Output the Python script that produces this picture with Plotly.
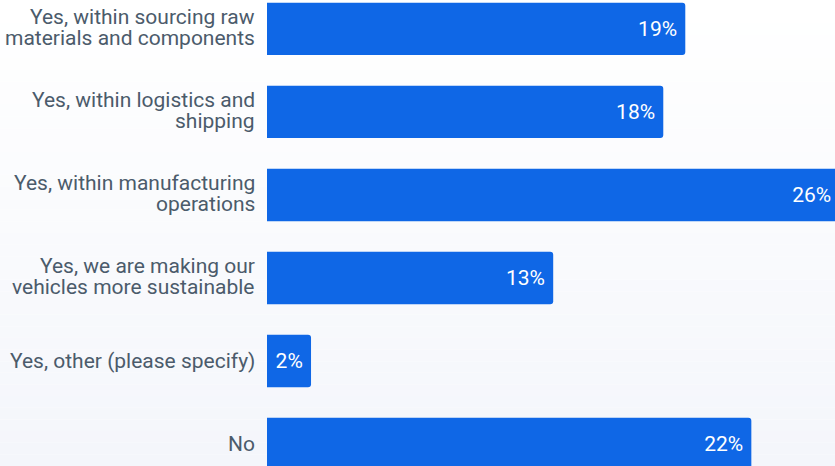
import plotly.graph_objects as go

categories = [
    "Yes, within sourcing raw<br>materials and components",
    "Yes, within logistics and<br>shipping",
    "Yes, within manufacturing<br>operations",
    "Yes, we are making our<br>vehicles more sustainable",
    "Yes, other (please specify)",
    "No",
]
shares = [19, 18, 26, 13, 2, 22]
labels = [f"{v}%\u00a0" for v in shares]  # trailing no-break space pads the label from the bar end

FONT = "Roboto"
LABEL_COLOR = "#4b5b6b"
BAR_COLOR = "#0f67e6"
SIZE = 21
LINE_GAP = 21  # baseline-to-baseline distance for two-line category labels

fig = go.Figure(
    go.Bar(
        x=shares,
        y=categories,
        orientation="h",
        marker=dict(color=BAR_COLOR, line=dict(width=0)),
        width=0.63,
        text=labels,
        textposition="inside",
        insidetextanchor="end",
        textangle=0,
        textfont=dict(family=FONT, size=SIZE, color="white"),
        hoverinfo="x+y",
    )
)

# category labels with tight line spacing, right-aligned left of the bars
annotations = []
for cat in categories:
    lines = cat.split("<br>")
    n = len(lines)
    for i, line in enumerate(lines):
        offset = ((n - 1) / 2 - i) * LINE_GAP + (1 if n > 1 else 0)
        annotations.append(dict(
            x=0, y=cat, xref="paper", yref="y", text=line, showarrow=False,
            xanchor="right", yanchor="middle", xshift=-10, yshift=offset,
            font=dict(family=FONT, size=SIZE, color=LABEL_COLOR),
        ))

# soft vertical background gradient (white at top, pale blue-grey at bottom)
n_strips = 40
top = (255, 255, 255)
bot = (244, 246, 251)
shapes = []
for i in range(n_strips):
    t = i / (n_strips - 1)
    c = tuple(round(top[k] + (bot[k] - top[k]) * t) for k in range(3))
    shapes.append(dict(
        type="rect", xref="paper", yref="paper",
        x0=-1, x1=1, y0=1 - (i + 1) / n_strips, y1=1 - i / n_strips,
        fillcolor=f"rgb{c}", line=dict(width=0), layer="below",
    ))

fig.update_layout(
    width=835, height=466,
    margin=dict(l=267, r=0, t=0, b=0),
    paper_bgcolor="white",
    plot_bgcolor="rgba(0,0,0,0)",
    barcornerradius=3,
    uniformtext=dict(mode="show", minsize=10),
    shapes=shapes,
    annotations=annotations,
    showlegend=False,
    font=dict(family=FONT, color=LABEL_COLOR, size=SIZE),
    xaxis=dict(range=[0, 25.8], visible=False, showgrid=False, zeroline=False),
    yaxis=dict(
        range=[5.265, -0.349], showgrid=False, zeroline=False,
        ticks="", showticklabels=False,
    ),
)

fig.write_html("out.html")
